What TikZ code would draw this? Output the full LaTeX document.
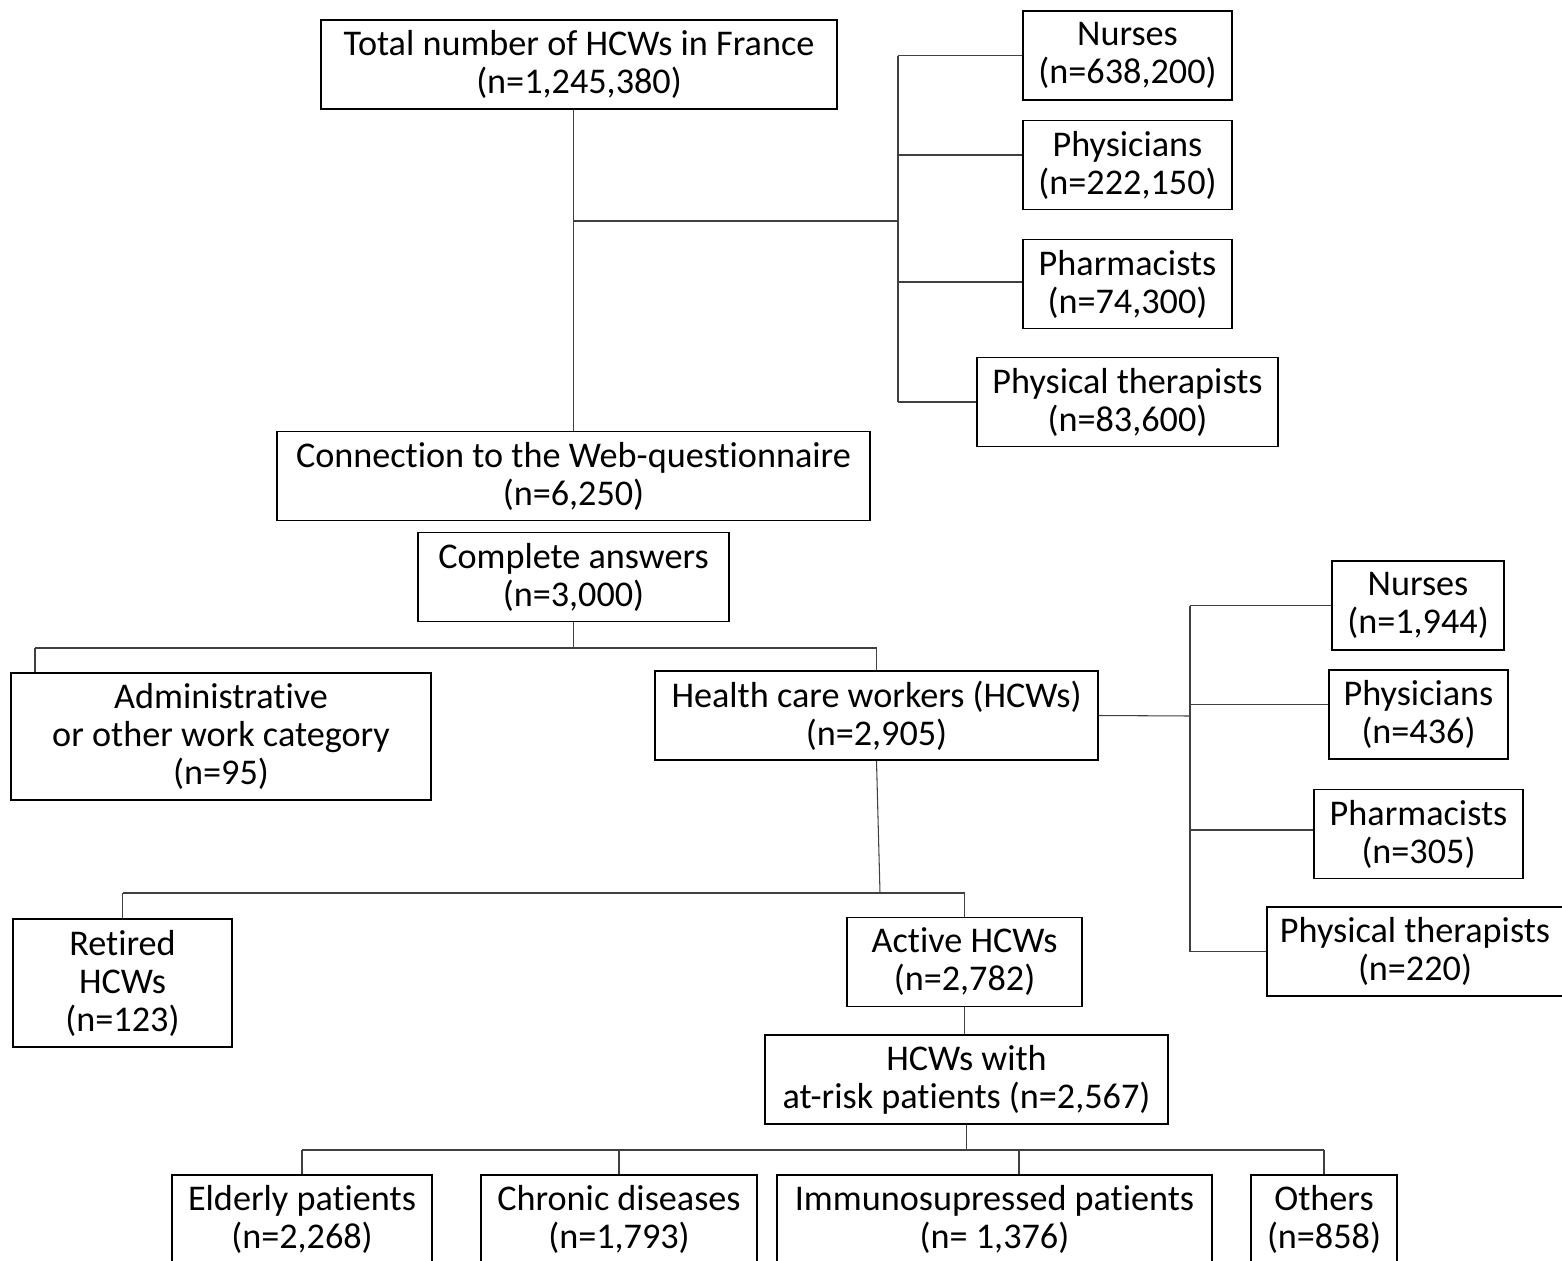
\documentclass[tikz,border=0pt]{standalone}
\usepackage{fontspec}
\setmainfont{Carlito}[Ligatures=NoCommon]
\begin{document}
\begin{tikzpicture}[x=0.02cm,y=-0.02cm,
    box/.style={draw,line width=1.1pt,align=center,inner sep=0pt,
      minimum height=1.78cm,font=\fontsize{20.6}{21.6}\selectfont},
    link/.style={line width=0.6pt,black!75}]

    \useasboundingbox (0,0) rectangle (1562,1261);

    % Top level and national counts
    \node[box,minimum width=10.32cm] (total) at (579,64.5)
      {Total number of HCWs in France\\(n=1,245,380)};
    \node[box,minimum width=4.18cm] (nurA) at (1127.5,55.5) {Nurses\\(n=638,200)};
    \node[box,minimum width=4.18cm] (phyA) at (1127.5,165) {Physicians\\(n=222,150)};
    \node[box,minimum width=4.18cm] (phaA) at (1127.5,284) {Pharmacists\\(n=74,300)};
    \node[box,minimum width=6.02cm] (ptA) at (1127.5,402) {Physical therapists\\(n=83,600)};

    % Survey
    \node[box,minimum width=11.86cm] (conn) at (573.5,476)
      {Connection to the Web-questionnaire\\(n=6,250)};
    \node[box,minimum width=6.22cm] (compl) at (573.5,577) {Complete answers\\(n=3,000)};

    % Work category
    \node[box,minimum width=8.4cm,minimum height=2.54cm] (admin) at (221,736.5)
      {Administrative\\or other work category\\(n=95)};
    \node[box,minimum width=8.86cm] (hcw) at (876.5,715.5)
      {Health care workers (HCWs)\\(n=2,905)};

    % Respondents by profession
    \node[box,minimum width=3.44cm] (nurB) at (1418,605.5) {Nurses\\(n=1,944)};
    \node[box,minimum width=3.58cm] (phyB) at (1418.5,714.5) {Physicians\\(n=436)};
    \node[box,minimum width=4.18cm] (phaB) at (1418.5,834) {Pharmacists\\(n=305)};
    \node[box,minimum width=5.92cm] (ptB) at (1415,951.5) {Physical therapists\\(n=220)};

    % Activity
    \node[box,minimum width=4.38cm,minimum height=2.56cm] (retired) at (122.5,983)
      {Retired\\HCWs\\(n=123)};
    \node[box,minimum width=4.7cm] (active) at (964.5,962) {Active HCWs\\(n=2,782)};
    \node[box,minimum width=8.06cm] (atrisk) at (966.5,1079.5)
      {HCWs with\\at-risk patients (n=2,567)};

    % Patients
    \node[box,minimum width=5.2cm] (elderly) at (302,1219.5) {Elderly patients\\(n=2,268)};
    \node[box,minimum width=5.52cm] (chronic) at (619,1219.5) {Chronic diseases\\(n=1,793)};
    \node[box,minimum width=8.7cm] (immuno) at (994.5,1219.5)
      {Immunosupressed patients\\(n= 1,376)};
    \node[box,minimum width=2.92cm] (others) at (1324,1219.5) {Others\\(n=858)};

    % Connectors, top part
    \coordinate (busA) at (898,221);
    \draw[link] (conn.north |- total.south) -- (conn.north);
    \draw[link] (conn.north |- busA) -- (busA);
    \draw[link] (nurA.west -| busA) -- (ptA.west -| busA);
    \draw[link] (nurA.west -| busA) -- (nurA.west);
    \draw[link] ([yshift=0.2cm]phyA.west -| busA) -- ([yshift=0.2cm]phyA.west);
    \draw[link] ([yshift=0.04cm]phaA.west -| busA) -- ([yshift=0.04cm]phaA.west);
    \draw[link] (ptA.west -| busA) -- (ptA.west);

    % Connectors, work category
    \coordinate (busB) at (575,648);
    \coordinate (adm) at (35,648);
    \draw[link] (compl.south) -- (compl.south |- busB);
    \draw[link] (adm) -- (hcw.north |- busB) -- (hcw.north);
    \draw[link] (adm) -- (adm |- admin.north);

    % Connectors, professions
    \coordinate (busC) at (1190,716);
    \draw[link] (hcw.east) -- (busC);
    \draw[link] (nurB.west -| busC) -- (ptB.west -| busC);
    \draw[link] (nurB.west -| busC) -- (nurB.west);
    \draw[link] ([yshift=0.2cm]phyB.west -| busC) -- ([yshift=0.2cm]phyB.west);
    \draw[link] ([yshift=0.08cm]phaB.west -| busC) -- ([yshift=0.08cm]phaB.west);
    \draw[link] (ptB.west -| busC) -- (ptB.west);

    % Connectors, activity
    \coordinate (busD) at (880,893);
    \draw[link] (hcw.south) -- (busD);
    \draw[link] (retired.north |- busD) -- (active.north |- busD);
    \draw[link] (retired.north |- busD) -- (retired.north);
    \draw[link] (active.north |- busD) -- (active.north);
    \draw[link] (active.south) -- (active.south |- atrisk.north);

    % Connectors, patients
    \coordinate (busE) at (968,1150);
    \coordinate (imm) at (1019,1150);
    \draw[link] (atrisk.south) -- (atrisk.south |- busE);
    \draw[link] (elderly.north |- busE) -- (others.north |- busE);
    \foreach \n in {elderly,chronic,others}
      \draw[link] (\n.north |- busE) -- (\n.north);
    \draw[link] (imm) -- (imm |- immuno.north);

\end{tikzpicture}
\end{document}
